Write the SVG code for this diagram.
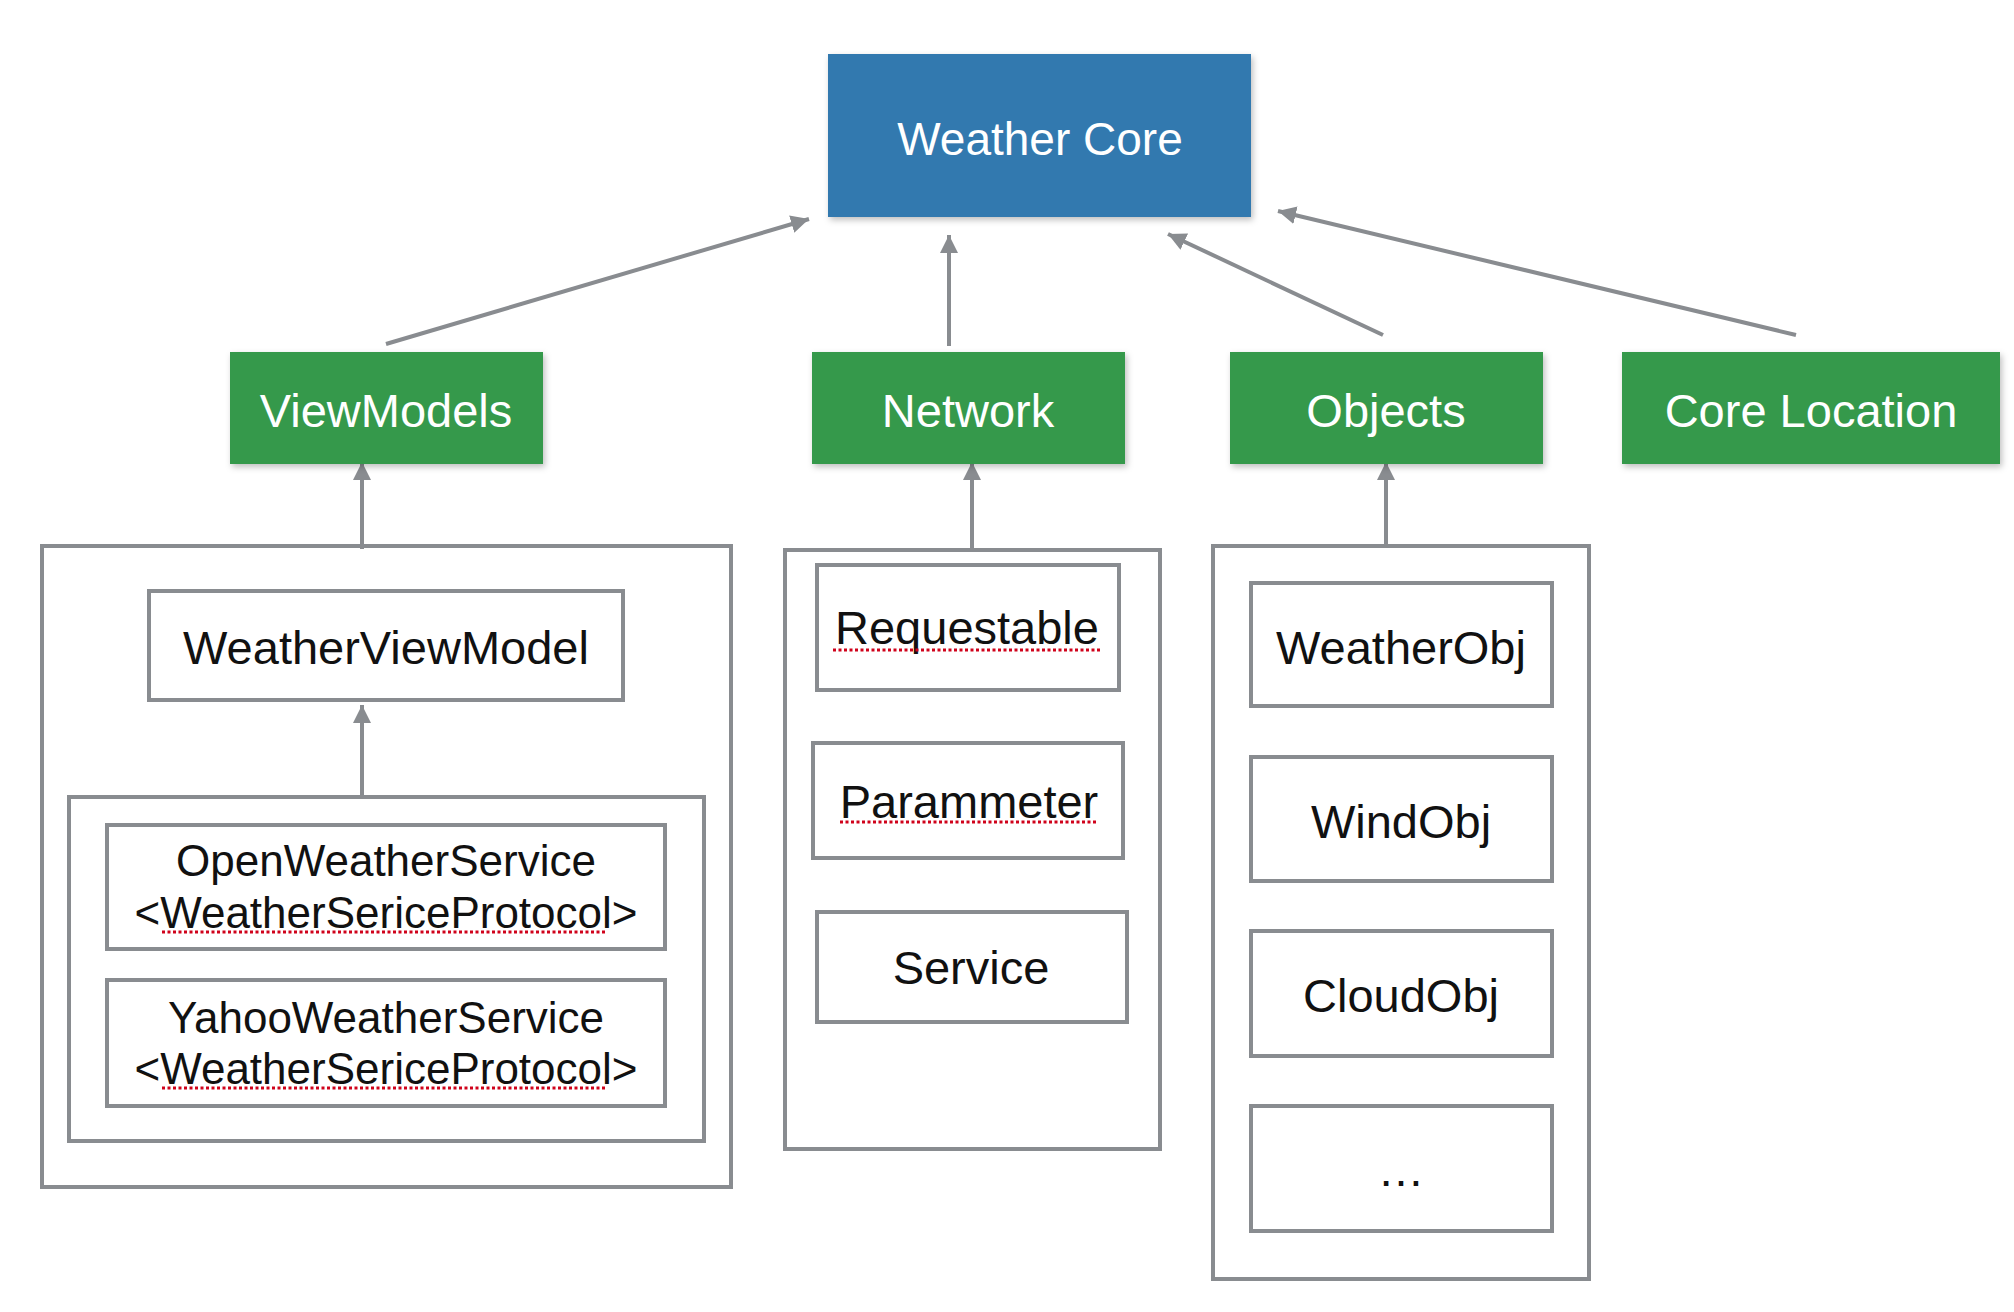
<svg xmlns="http://www.w3.org/2000/svg" width="2014" height="1312" viewBox="0 0 2014 1312">
<defs>
<style>
.txt{font-family:"Liberation Sans",Arial,Helvetica,sans-serif;text-anchor:middle;fill:#111}
.hdr{font-family:"Liberation Sans",Arial,Helvetica,sans-serif;text-anchor:middle;fill:#ffffff;font-size:47px}
.box{fill:#ffffff;stroke:#898c90;stroke-width:4}
.frame{fill:none;stroke:#898c90;stroke-width:4}
.blue{fill:#3079af}
.green{fill:#34994b}
.conn{stroke:#898c90;stroke-width:4;fill:none;marker-end:url(#arr)}
.spell{stroke:#d0021b;stroke-width:3;stroke-dasharray:3 2.5;fill:none}
</style>
<marker id="arr" markerUnits="userSpaceOnUse" markerWidth="20" markerHeight="20" refX="18" refY="9" orient="auto">
<path d="M0,0 L18,9 L0,18 z" fill="#898c90"/>
</marker>
<filter id="sh" x="-10%" y="-10%" width="125%" height="130%">
<feDropShadow dx="2" dy="3" stdDeviation="3" flood-color="#000" flood-opacity="0.25"/>
</filter>
</defs>
<rect width="2014" height="1312" fill="#ffffff"/>

<g id="connectors">
<line class="conn" x1="386" y1="344" x2="809" y2="219"/>
<line class="conn" x1="949" y1="346" x2="949" y2="235"/>
<line class="conn" x1="1383" y1="335" x2="1168" y2="234"/>
<line class="conn" x1="1796" y1="335" x2="1278" y2="211"/>
<line class="conn" x1="362" y1="549" x2="362" y2="462"/>
<line class="conn" x1="972" y1="550" x2="972" y2="462"/>
<line class="conn" x1="1386" y1="548" x2="1386" y2="462"/>
<line class="conn" x1="362" y1="795" x2="362" y2="705"/>
</g>

<g id="weather-core">
<rect class="blue" x="828" y="54" width="423" height="163" filter="url(#sh)"/>
<text class="hdr" x="1040" y="155" style="font-size:46px">Weather Core</text>
</g>

<g id="viewmodels">
<rect class="green" x="230" y="352" width="313" height="112" filter="url(#sh)"/>
<text class="hdr" x="386" y="427">ViewModels</text>
</g>

<g id="network">
<rect class="green" x="812" y="352" width="313" height="112" filter="url(#sh)"/>
<text class="hdr" x="968" y="427">Network</text>
</g>

<g id="objects">
<rect class="green" x="1230" y="352" width="313" height="112" filter="url(#sh)"/>
<text class="hdr" x="1386" y="427">Objects</text>
</g>

<g id="core-location">
<rect class="green" x="1622" y="352" width="378" height="112" filter="url(#sh)"/>
<text class="hdr" x="1811" y="427">Core Location</text>
</g>

<g id="viewmodels-container">
<rect class="frame" x="42" y="546" width="689" height="641"/>
</g>

<g id="weatherviewmodel">
<rect class="box" x="149" y="591" width="474" height="109"/>
<text class="txt" x="386" y="664" font-size="47">WeatherViewModel</text>
</g>

<g id="services-container">
<rect class="frame" x="69" y="797" width="635" height="344"/>
</g>

<g id="openweatherservice">
<rect class="box" x="107" y="825" width="558" height="124"/>
<text class="txt" x="386" y="876" font-size="44">OpenWeatherService</text>
<text class="txt" x="386" y="928" font-size="44">&lt;WeatherSericeProtocol&gt;</text>
<line class="spell" x1="162" y1="932" x2="607" y2="932"/>
</g>

<g id="yahooweatherservice">
<rect class="box" x="107" y="980" width="558" height="126"/>
<text class="txt" x="386" y="1033" font-size="44">YahooWeatherService</text>
<text class="txt" x="386" y="1084" font-size="44">&lt;WeatherSericeProtocol&gt;</text>
<line class="spell" x1="162" y1="1088" x2="607" y2="1088"/>
</g>

<g id="network-container">
<rect class="frame" x="785" y="550" width="375" height="599"/>
</g>

<g id="requestable">
<rect class="box" x="817" y="565" width="302" height="125"/>
<text class="txt" x="967" y="644" font-size="47">Requestable</text>
<line class="spell" x1="833" y1="650" x2="1101" y2="650"/>
</g>

<g id="parammeter">
<rect class="box" x="813" y="743" width="310" height="115"/>
<text class="txt" x="969" y="818" font-size="47">Parammeter</text>
<line class="spell" x1="840" y1="822" x2="1097" y2="822"/>
</g>

<g id="service">
<rect class="box" x="817" y="912" width="310" height="110"/>
<text class="txt" x="971" y="984" font-size="47">Service</text>
</g>

<g id="objects-container">
<rect class="frame" x="1213" y="546" width="376" height="733"/>
</g>

<g id="weatherobj">
<rect class="box" x="1251" y="583" width="301" height="123"/>
<text class="txt" x="1401" y="664" font-size="47">WeatherObj</text>
</g>

<g id="windobj">
<rect class="box" x="1251" y="757" width="301" height="124"/>
<text class="txt" x="1401" y="838" font-size="47">WindObj</text>
</g>

<g id="cloudobj">
<rect class="box" x="1251" y="931" width="301" height="125"/>
<text class="txt" x="1401" y="1012" font-size="47">CloudObj</text>
</g>

<g id="more">
<rect class="box" x="1251" y="1106" width="301" height="125"/>
<text class="txt" x="1401" y="1186" font-size="47">…</text>
</g>
</svg>
